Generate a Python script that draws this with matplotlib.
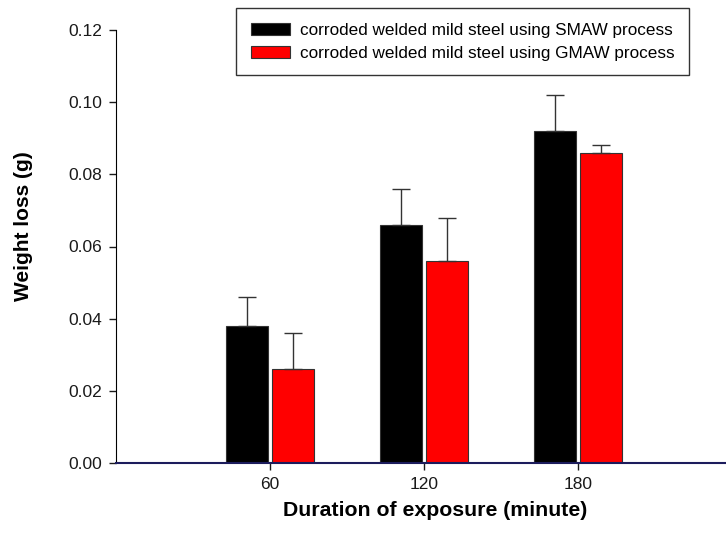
import numpy as np
import matplotlib
matplotlib.use('Agg')
import matplotlib.pyplot as plt

plt.rcParams['font.family'] = ['Liberation Sans', 'DejaVu Sans']

durations = ['60', '120', '180']
smaw = [0.038, 0.066, 0.092]
smaw_err = [0.008, 0.010, 0.010]
gmaw = [0.026, 0.056, 0.086]
gmaw_err = [0.010, 0.012, 0.002]
series_names = ['corroded welded mild steel using SMAW process',
                'corroded welded mild steel using GMAW process']

fig = plt.figure(figsize=(7.26, 5.34), dpi=100)
ax = fig.add_axes([116 / 726, 71 / 534, 610 / 726, 433 / 534])

x = np.arange(1, len(durations) + 1)
w = 0.27
err_kw = dict(ecolor='#333333', elinewidth=1.0, capsize=6.5, capthick=1.0)
ax.bar(x - 0.15, smaw, w, color='black', edgecolor='#333333', linewidth=0.8,
       yerr=[np.zeros(3), smaw_err], error_kw=err_kw, label=series_names[0])
ax.bar(x + 0.15, gmaw, w, color='#ff0000', edgecolor='#333333', linewidth=0.8,
       yerr=[np.zeros(3), gmaw_err], error_kw=err_kw, label=series_names[1])

ax.set_xlim(0, 3.96)
ax.set_ylim(0, 0.12)
ax.set_xticks(x)
ax.set_xticklabels(durations)
ax.set_yticks(np.arange(0, 0.121, 0.02))
ax.set_yticklabels(['%.2f' % v for v in np.arange(0, 0.121, 0.02)])
ax.tick_params(labelsize=12.5, length=5, width=1, pad=5, colors='#1a1a1a')

for s in ['top', 'right']:
    ax.spines[s].set_visible(False)
ax.spines['left'].set_color('black')
ax.spines['bottom'].set_color('#1c1c5c')
ax.spines['bottom'].set_linewidth(1.5)

ax.set_ylabel('Weight loss (g)', fontsize=15, fontweight='bold')
ax.yaxis.set_label_coords(-0.136, 0.547)
ax.set_xlabel('Duration of exposure (minute)', fontsize=15.3, fontweight='bold')
ax.xaxis.set_label_coords(0.523, -0.088)

leg = fig.legend(loc='upper left', bbox_to_anchor=(236 / 726, 1 - 8 / 534),
                 fontsize=12.3, frameon=True, fancybox=False, edgecolor='black',
                 handlelength=2.3, handleheight=0.78, handletextpad=0.6,
                 borderpad=0.85, labelspacing=0.45, borderaxespad=0)
leg.get_frame().set_linewidth(1.0)

fig.savefig('out.png', dpi=100)
